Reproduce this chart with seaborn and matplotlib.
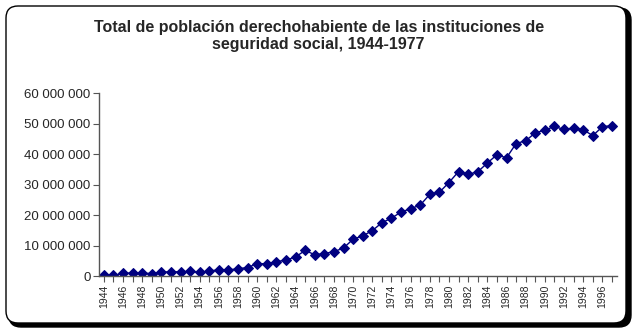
import matplotlib
matplotlib.use("Agg")
import matplotlib.pyplot as plt
import seaborn as sns
import pandas as pd
from matplotlib.patches import FancyBboxPatch
from matplotlib.transforms import IdentityTransform

years = [1944, 1945, 1946, 1947, 1948, 1949, 1950, 1951, 1952, 1953,
         1954, 1955, 1956, 1957, 1958, 1959, 1960, 1961, 1962, 1963,
         1964, 1965, 1966, 1967, 1968, 1969, 1970, 1971, 1972, 1973,
         1974, 1975, 1976, 1977, 1978, 1979, 1980, 1981, 1982, 1983,
         1984, 1985, 1986, 1987, 1988, 1989, 1990, 1991, 1992, 1993,
         1994, 1995, 1996, 1997]
poblacion = [0.4, 0.2, 0.9, 1.0, 1.0, 0.8, 1.3, 1.4, 1.4, 1.5,
             1.2, 1.6, 2.1, 2.0, 2.4, 2.8, 4.1, 4.0, 4.75, 5.2,
             6.3, 8.4, 7.0, 7.4, 8.0, 9.2, 12.1, 13.2, 14.9, 17.5,
             19.0, 21.0, 22.1, 23.3, 26.8, 27.5, 30.7, 34.3, 33.4, 34.2,
             37.1, 39.8, 38.8, 43.5, 44.4, 47.0, 47.9, 49.1, 48.1, 48.6,
             48.0, 46.1, 49.0, 49.4]  # millions
poblacion = [v * 1_000_000 for v in poblacion]

x_tick_labels = ["1944", "", "1946", "", "1948", "", "1950", "", "1952", "",
                 "1954", "", "1956", "", "1958", "", "1960", "", "1962", "",
                 "1964", "", "1966", "", "1968", "", "1970", "", "1972", "",
                 "1974", "", "1976", "", "1978", "", "1980", "", "1982", "",
                 "1984", "", "1986", "", "1988", "", "1990", "", "1992", "",
                 "1994", "", "1996", ""]
y_ticks = [0, 10_000_000, 20_000_000, 30_000_000, 40_000_000, 50_000_000, 60_000_000]
y_tick_labels = ["0", "10 000 000", "20 000 000", "30 000 000", "40 000 000",
                 "50 000 000", "60 000 000"]
title = "Total de población derechohabiente de las instituciones de\nseguridad social, 1944-1977"

sns.set_style("white")
plt.rcParams["font.family"] = ["Liberation Sans", "DejaVu Sans"]

df = pd.DataFrame({"year": years, "pob": poblacion})

fig = plt.figure(figsize=(6.4, 3.33), dpi=100)
fig.patch.set_facecolor("white")

# rounded frame with shadow
shadow = FancyBboxPatch((9, 6), 622, 319, boxstyle="round,pad=0,rounding_size=12",
                        transform=IdentityTransform(), facecolor="black",
                        edgecolor="black", zorder=0)
frame = FancyBboxPatch((6, 10), 620, 317, boxstyle="round,pad=0,rounding_size=12",
                       transform=IdentityTransform(), facecolor="white",
                       edgecolor="black", linewidth=1.0, zorder=1)
fig.patches.extend([shadow, frame])

ax = fig.add_axes([0.1547, 0.171, 0.809, 0.549])
ax.set_facecolor("none")
ax.set_zorder(2)

sns.lineplot(data=df, x="year", y="pob", ax=ax, color="#000080", linewidth=1.0,
             marker="D", markersize=5.5, markeredgecolor="#000080", markerfacecolor="#000080")

ax.set_xlim(1943.5, 1997.5)
ax.set_ylim(0, 60_000_000)
ax.set_xticks(years)
ax.set_xticklabels(x_tick_labels, rotation=90, fontsize=7.5)
ax.set_yticks(y_ticks)
ax.set_yticklabels(y_tick_labels, fontsize=9.5)
ax.set_xlabel("")
ax.set_ylabel("")
ax.tick_params(axis="both", direction="out", length=4, width=0.8, color="#555555",
               bottom=True, left=True, pad=2)
for s in ["top", "right"]:
    ax.spines[s].set_visible(False)
for s in ["left", "bottom"]:
    ax.spines[s].set_color("#555555")
    ax.spines[s].set_linewidth(1.0)

fig.text(0.498, 0.892, title, ha="center", va="center", fontsize=11.5,
         fontweight="bold", linespacing=1.15, zorder=3)

fig.savefig("out.png", dpi=100)
